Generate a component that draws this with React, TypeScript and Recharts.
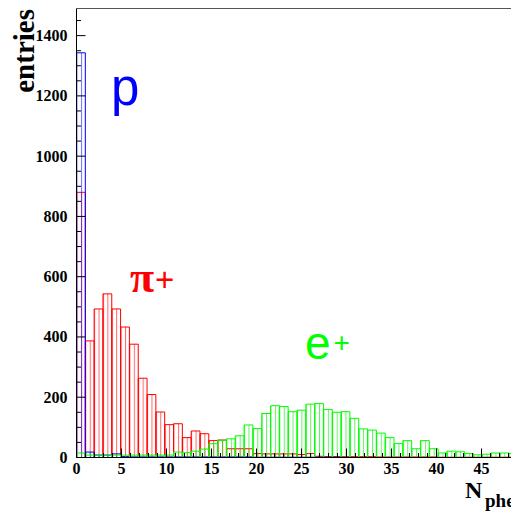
import React from 'react';
import { ComposedChart, Bar, XAxis, YAxis, ReferenceLine } from 'recharts';

// bin lower edges (N_phe)
const bins = [
  0, 1, 2, 3, 4, 5, 6, 7, 8, 9,
  10, 11, 12, 13, 14, 15, 16, 17, 18, 19,
  20, 21, 22, 23, 24, 25, 26, 27, 28, 29,
  30, 31, 32, 33, 34, 35, 36, 37, 38, 39,
  40, 41, 42, 43, 44, 45, 46, 47, 48, 49,
];

const piCounts = [
  880, 387, 493, 543, 493, 433, 376, 263, 209, 151,
  109, 112, 66, 88, 79, 56, 58, 29, 29, 29,
  13, 12, 12, 12, 12, 10, 13, 4, 3, 3,
  3, 3, 3, 3, 2, 2, 2, 2, 2, 2,
  2, 1, 1, 1, 1, 1, 1, 1, 1, 1,
];

const pCounts = [
  1343, 18, 8, 8, 12, 3, 2, 2, 2, 2,
  2, 2, 2, 2, 2, 2, 2, 2, 2, 2,
  1, 1, 1, 1, 1, 1, 1, 1, 1, 1,
  0, 0, 0, 0, 0, 0, 0, 0, 0, 0,
  0, 0, 0, 0, 0, 0, 0, 0, 0, 0,
];

const eCounts = [
  15, 8, 8, 8, 8, 8, 8, 8, 8, 8,
  8, 18, 16, 21, 28, 46, 57, 62, 72, 108,
  96, 146, 172, 169, 152, 157, 177, 179, 159, 150,
  152, 130, 95, 91, 81, 66, 46, 56, 29, 56,
  29, 15, 21, 19, 13, 9, 11, 15, 15, 13,
];

const xLabelTicks = [0, 5, 10, 15, 20, 25, 30, 35, 40, 45, 50];
const yLabelTicks = [0, 200, 400, 600, 800, 1000, 1200, 1400];
const xAllTicks = Array.from({ length: 51 }, (_, i) => i);
const yAllTicks = Array.from({ length: 30 }, (_, i) => i * 50);

const data = bins.map((b, i) => ({ bin: b, pi: piCounts[i], p: pCounts[i], e: eCounts[i] }));

const W = 511;
const H = 505;
const LEFT = 68.5;
const RIGHT = 1.5;
const BAND = (W - LEFT - RIGHT) / bins.length;
const serif = 'Liberation Serif, Times New Roman, serif';
const sans = 'Liberation Sans, Arial, sans-serif';

const XTick = (props: any) => {
  const { x, y, payload } = props;
  const v = payload.value;
  const major = xLabelTicks.includes(v);
  return (
    <g>
      <line x1={x} x2={x} y1={y} y2={y - (major ? 9 : 4.5)} stroke="#000" strokeWidth={1} />
      {major && (
        <text x={x} y={y + 16} textAnchor="middle" fontFamily={serif} fontWeight="bold" fontSize={16} fill="#000">
          {v}
        </text>
      )}
    </g>
  );
};

const YTick = (props: any) => {
  const { x, y, payload } = props;
  const v = payload.value;
  const major = yLabelTicks.includes(v);
  return (
    <g>
      <line x1={x} x2={x + (major ? 9 : 4.5)} y1={y} y2={y} stroke="#000" strokeWidth={1} />
      {major && (
        <text x={x - 9} y={y + 5.5} textAnchor="end" fontFamily={serif} fontWeight="bold" fontSize={16} fill="#000">
          {v}
        </text>
      )}
    </g>
  );
};

const hatch = (id: string, color: string) => (
  <pattern id={id} patternUnits="userSpaceOnUse" x={LEFT} y={0} width={BAND / 2} height={4}>
    <rect x={0} y={0} width={1} height={4} fill={color} />
  </pattern>
);

export default function App() {
  return (
    <ComposedChart
      width={W}
      height={H}
      data={data}
      margin={{ top: 0.5, right: RIGHT, bottom: 25.5, left: 8.5 }}
      barCategoryGap={0}
      barGap={0}
    >
      <defs>
        {hatch('hatchRed', 'rgba(255,0,0,0.6)')}
        {hatch('hatchBlue', 'rgba(0,0,255,0.6)')}
        {hatch('hatchGreen', 'rgba(0,230,0,0.6)')}
      </defs>
      <XAxis
        xAxisId="t"
        type="number"
        domain={[0, 50]}
        allowDataOverflow
        ticks={xAllTicks}
        interval={0}
        height={30}
        tickSize={0}
        tickMargin={0}
        tickLine={false}
        tick={<XTick />}
        axisLine={{ stroke: '#000', strokeWidth: 1 }}
      />
      <YAxis
        yAxisId="t"
        type="number"
        domain={[0, 1490]}
        allowDataOverflow
        ticks={yAllTicks}
        interval={0}
        width={60}
        tickSize={0}
        tickMargin={0}
        tickLine={false}
        tick={<YTick />}
        axisLine={{ stroke: '#000', strokeWidth: 1 }}
      />
      <XAxis xAxisId="pi" dataKey="bin" type="category" height={0} hide />
      <XAxis xAxisId="p" dataKey="bin" type="category" height={0} hide />
      <XAxis xAxisId="e" dataKey="bin" type="category" height={0} hide />
      <YAxis yAxisId="y" type="number" domain={[0, 1490]} allowDataOverflow width={0} hide />

      <Bar xAxisId="pi" yAxisId="y" dataKey="pi" barSize={BAND - 0.01} fill="url(#hatchRed)" stroke="#ff0000" strokeWidth={1} isAnimationActive={false} />
      <Bar xAxisId="p" yAxisId="y" dataKey="p" barSize={BAND - 0.01} fill="url(#hatchBlue)" stroke="#0000ff" strokeWidth={1} isAnimationActive={false} />
      <Bar xAxisId="e" yAxisId="y" dataKey="e" barSize={BAND - 0.01} fill="url(#hatchGreen)" stroke="#00ff00" strokeWidth={1} isAnimationActive={false} />

      <ReferenceLine xAxisId="t" yAxisId="t" y={1490} stroke="#555" strokeWidth={1} />
      <ReferenceLine xAxisId="t" yAxisId="t" x={50} stroke="#222" strokeWidth={1} />

      <text x={26} y={1} transform="rotate(-90 26 1)" textAnchor="end" fontFamily={serif} fontWeight="bold" fontSize={29} fill="#000">
        entries
      </text>
      <text x={457} y={490} fontFamily={serif} fontWeight="bold" fontSize={24} fill="#000">N</text>
      <text x={477} y={499} fontFamily={serif} fontWeight="bold" fontSize={19} fill="#000">phe</text>

      <text x={103} y={97} fontFamily={sans} fontSize={51} fill="#0000ff">p</text>
      <text x={122} y={284} fontFamily={serif} fontWeight="bold" fontSize={44} fill="#ff0000">π</text>
      <text x={147} y={283} fontFamily={sans} fontSize={33} fill="#ff0000">+</text>
      <text x={297} y={350.5} fontFamily={sans} fontSize={46} fill="#00ff00">e</text>
      <text x={325.6} y={343.8} fontFamily={sans} fontSize={28} fill="#00ff00">+</text>
    </ComposedChart>
  );
}
